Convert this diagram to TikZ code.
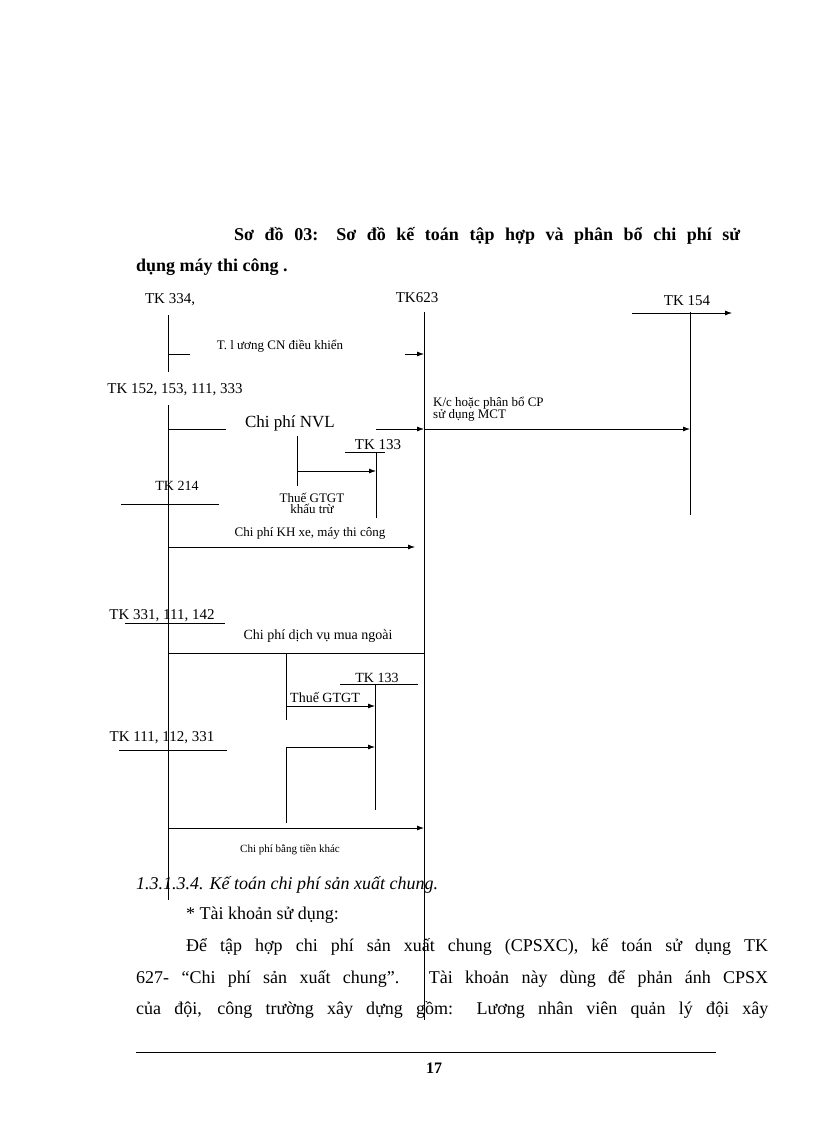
\documentclass[tikz,border=0pt]{standalone}
\usepackage{fontspec}
\setmainfont{Liberation Serif}
\usetikzlibrary{arrows.meta}
\begin{document}
\begin{tikzpicture}[x=1pt,y=-1pt,
  ln/.style={line width=0.8pt},
  ar/.style={line width=0.8pt,-{Latex[length=7pt,width=5pt]}},
  lb/.style={inner sep=0pt,font=\fontsize{13}{14}\selectfont},
  sm/.style={inner sep=0pt,font=\fontsize{12}{13}\selectfont},
  body/.style={inner sep=0pt,anchor=west,font=\fontsize{18}{20}\selectfont}]
\useasboundingbox (0,0) rectangle (816,1123);
% title
\node[body,font=\fontsize{18}{20}\selectfont\bfseries] (t1) at (234,236) {\makebox[506pt][s]{Sơ đồ 03: Sơ đồ kế toán tập hợp và phân bổ chi phí sử}};
\node[body,font=\fontsize{18}{20}\selectfont\bfseries] (t2) at (136,267) {dụng máy thi công .};
% headers
\node[lb,font=\fontsize{15}{16}\selectfont] (h334) at (170,300) {TK 334,};
\node[lb,font=\fontsize{15}{16}\selectfont] (h623) at (417,298) {TK623};
\node[lb,font=\fontsize{15}{16}\selectfont] (h154) at (687,301) {TK 154};
% verticals
\coordinate (L1a) at (168,315); \coordinate (L1b) at (168,372);
\coordinate (L2a) at (168,405); \coordinate (L2b) at (168,900);
\coordinate (Ma) at (424,312); \coordinate (Mb) at (424,1020);
\coordinate (Ra) at (690,312); \coordinate (Rb) at (690,515);
\draw[ln] (L1a)--(L1b); \draw[ln] (L2a)--(L2b); \draw[ln] (Ma)--(Mb); \draw[ln] (Ra)--(Rb);
\coordinate (Ta) at (632,313); \coordinate (Tb) at (732,313);
\draw[ar] (Ta)--(Tb);
% luong
\coordinate (a1) at (168,354); \coordinate (a2) at (190,354); \coordinate (a3) at (405,354); \coordinate (a4) at (424,354);
\draw[ln] (a1)--(a2); \draw[ar] (a3)--(a4);
\node[lb] (tl) at (280,346) {T. l ương CN điều khiển};
\node[lb,font=\fontsize{15}{16}\selectfont] (h152) at (175,390) {TK 152, 153, 111, 333};
% NVL
\coordinate (b1) at (168,429); \coordinate (b2) at (226,429); \coordinate (b3) at (376,429); \coordinate (b4) at (424,429); \coordinate (b5) at (690,429);
\draw[ln] (b1)--(b2); \draw[ar] (b3)--(b4); \draw[ar] (b4)--(b5);
\node[lb,font=\fontsize{17}{18}\selectfont] (nvl) at (290,423) {Chi phí NVL};
\node[lb,align=left,anchor=west] (kc) at (433,409) {K/c hoặc phân bổ CP\\[-2pt]sử dụng MCT};
% TK133 first
\node[lb,font=\fontsize{15}{16}\selectfont] (k133a) at (378,445) {TK 133};
\coordinate (c1) at (345,452); \coordinate (c2) at (385,452); \draw[ln] (c1)--(c2);
\coordinate (c3) at (376,452); \coordinate (c4) at (376,518); \draw[ln] (c3)--(c4);
\coordinate (d1) at (297,436); \coordinate (d2) at (297,486); \draw[ln] (d1)--(d2);
\coordinate (d3) at (297,471); \coordinate (d4) at (376,471); \draw[ar] (d3)--(d4);
\node[lb,align=center] (gt1) at (312,503) {Thuế GTGT\\[-3pt]khấu trừ};
% TK214
\node[lb,font=\fontsize{14}{15}\selectfont] (k214) at (177,486) {TK 214};
\coordinate (e1) at (121,504); \coordinate (e2) at (219,504); \draw[ln] (e1)--(e2);
\coordinate (e3) at (168,547); \coordinate (e4) at (415,547); \draw[ar] (e3)--(e4);
\node[lb] (kh) at (310,533) {Chi phí KH xe, máy thi công};
% TK331
\node[lb,font=\fontsize{15}{16}\selectfont] (k331) at (162,616) {TK 331, 111, 142};
\coordinate (f1) at (125,623); \coordinate (f2) at (225,623); \draw[ln] (f1)--(f2);
\coordinate (f3) at (168,653); \coordinate (f4) at (424,653); \draw[ln] (f3)--(f4);
\node[lb,font=\fontsize{14}{15}\selectfont] (dv) at (318,636) {Chi phí dịch vụ mua ngoài};
\coordinate (g1) at (286,653); \coordinate (g2) at (286,720); \draw[ln] (g1)--(g2);
\node[lb,font=\fontsize{14}{15}\selectfont] (k133b) at (377,678) {TK 133};
\coordinate (g3) at (340,684); \coordinate (g4) at (418,684); \draw[ln] (g3)--(g4);
\coordinate (g5) at (375,684); \coordinate (g6) at (375,810); \draw[ln] (g5)--(g6);
\coordinate (g7) at (286,706); \coordinate (g8) at (375,706); \draw[ar] (g7)--(g8);
\node[lb,font=\fontsize{14}{15}\selectfont] (gt2) at (325,697) {Thuế GTGT};
% TK111
\node[lb,font=\fontsize{15}{16}\selectfont] (k111) at (162,738) {TK 111, 112, 331};
\coordinate (h1) at (119,750); \coordinate (h2) at (227,750); \draw[ln] (h1)--(h2);
\coordinate (h3) at (286,823); \coordinate (h4) at (286,747); \coordinate (h5) at (375,747);
\draw[ar] (h3)--(h4)--(h5);
\coordinate (i1) at (168,828); \coordinate (i2) at (424,828); \draw[ar] (i1)--(i2);
\node[sm,font=\fontsize{11}{12}\selectfont] (tk) at (290,850) {Chi phí bằng tiền khác};
% body
\node[body,font=\fontsize{18}{20}\selectfont\itshape] (p1) at (136,885) {1.3.1.3.4. Kế toán chi phí sản xuất chung.};
\node[body] (p2) at (186,915) {* Tài khoản sử dụng:};
\node[body] (p3) at (186,947) {\makebox[582pt][s]{Để tập hợp chi phí sản xuất chung (CPSXC), kế toán sử dụng TK}};
\node[body] (p4) at (136,979) {\makebox[632pt][s]{627- “Chi phí sản xuất chung”. Tài khoản này dùng để phản ánh CPSX}};
\node[body] (p5) at (136,1010) {\makebox[632pt][s]{của đội, công trường xây dựng gồm: Lương nhân viên quản lý đội xây}};
\coordinate (z1) at (136,1052); \coordinate (z2) at (716,1052); \draw[line width=0.6pt] (z1)--(z2);
\node[body,anchor=center,font=\fontsize{16}{18}\selectfont\bfseries] (pg) at (434,1068) {17};
\end{tikzpicture}
\end{document}
